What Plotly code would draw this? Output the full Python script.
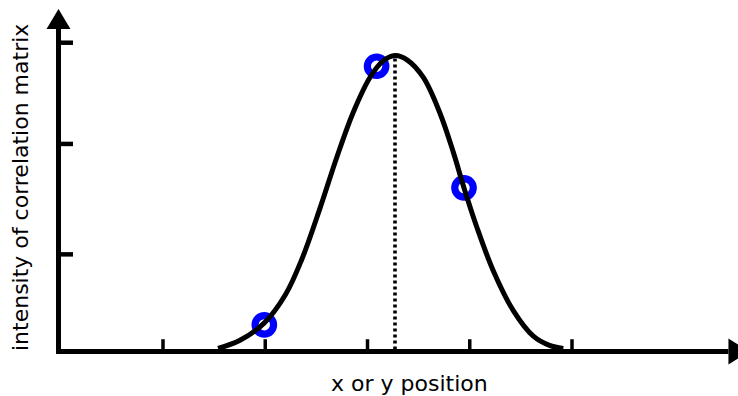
import plotly.graph_objects as go

# Fitted peak profile of the correlation matrix (position units, intensity units)
curve_x = [1.538, 1.753, 1.991, 2.200, 2.357, 2.535, 2.700, 2.861, 3.024, 3.150, 3.269,
           3.390, 3.546, 3.709, 3.839, 3.944, 4.068, 4.230, 4.426, 4.622, 4.780, 4.915]
curve_y = [0.030, 0.110, 0.280, 0.560, 0.900, 1.400, 1.900, 2.340, 2.680, 2.840, 2.895,
           2.850, 2.680, 2.330, 1.950, 1.600, 1.220, 0.790, 0.400, 0.150, 0.060, 0.030]

# Sampled correlation values
sample_x = [1.991, 3.089, 3.944]
sample_y = [0.261, 2.790, 1.601]

# Sub-pixel peak location
peak_x = 3.269
peak_y = 2.895

# Tick positions along the axes
x_ticks = [1, 2, 3, 4, 5]
y_ticks = [0.95, 2.03, 3.02]

x_label = "x or y position"
y_label = "intensity of correlation matrix"

X_RANGE = [-0.5941, 6.6235]
Y_RANGE = [-0.4352, 3.4377]

fig = go.Figure()

# open circles for the samples (drawn first so the curve sits on top)
fig.add_trace(go.Scatter(
    x=sample_x, y=sample_y, mode="markers",
    marker=dict(symbol="circle-open", size=18.5, color="#0000ff",
                line=dict(width=7.2, color="#0000ff")),
    hoverinfo="skip", showlegend=False))

fig.add_trace(go.Scatter(
    x=curve_x, y=curve_y, mode="lines",
    line=dict(color="black", width=5, shape="spline", smoothing=1.0),
    hoverinfo="skip", showlegend=False))

shapes = []
AX_W = 5
x_axis_x = -0.022     # horizontal position of the vertical axis
x_end = 6.53          # where the horizontal arrow head starts
y_end = 3.155         # where the vertical arrow head starts

# axis lines
shapes.append(dict(type="line", xref="x", yref="y", x0=-0.045, x1=x_end, y0=0, y1=0,
                   line=dict(color="black", width=AX_W), layer="above"))
shapes.append(dict(type="line", xref="x", yref="y", x0=x_axis_x, x1=x_axis_x, y0=-0.02, y1=y_end,
                   line=dict(color="black", width=AX_W), layer="above"))

# arrow heads
shapes.append(dict(type="path", xref="x", yref="y",
                   path=f"M {x_end},{-0.128} L {x_end + 0.2},0 L {x_end},{0.128} Z",
                   fillcolor="black", line=dict(width=0), layer="above"))
shapes.append(dict(type="path", xref="x", yref="y",
                   path=f"M {x_axis_x - 0.117},{y_end} L {x_axis_x},{y_end + 0.195} L {x_axis_x + 0.117},{y_end} Z",
                   fillcolor="black", line=dict(width=0), layer="above"))

# ticks pointing into the plot
for t in x_ticks:
    shapes.append(dict(type="line", xref="x", yref="y", x0=t, x1=t, y0=0, y1=0.12,
                       line=dict(color="black", width=3.5), layer="above"))
for t in y_ticks:
    shapes.append(dict(type="line", xref="x", yref="y", x0=x_axis_x, x1=0.12, y0=t, y1=t,
                       line=dict(color="black", width=4.5), layer="above"))

# dotted marker of the peak position
shapes.append(dict(type="line", xref="x", yref="y", x0=peak_x, x1=peak_x, y0=0.02, y1=peak_y,
                   line=dict(color="black", width=3.6, dash="3px,3px"), layer="below"))

fig.update_layout(
    width=738, height=396,
    margin=dict(l=0, r=0, t=0, b=0),
    paper_bgcolor="white", plot_bgcolor="white",
    xaxis=dict(range=X_RANGE, visible=False, fixedrange=True),
    yaxis=dict(range=Y_RANGE, visible=False, fixedrange=True),
    shapes=shapes,
    annotations=[
        dict(text=x_label, xref="paper", yref="paper", x=409 / 738, y=1 - 383 / 396,
             showarrow=False, xanchor="center", yanchor="middle",
             font=dict(family="DejaVu Sans", size=22, color="black")),
        dict(text=y_label, xref="paper", yref="paper", x=21 / 738, y=1 - 188 / 396,
             showarrow=False, xanchor="center", yanchor="middle", textangle=-90,
             font=dict(family="DejaVu Sans", size=22, color="black")),
    ],
)

fig.write_html("out.html")
